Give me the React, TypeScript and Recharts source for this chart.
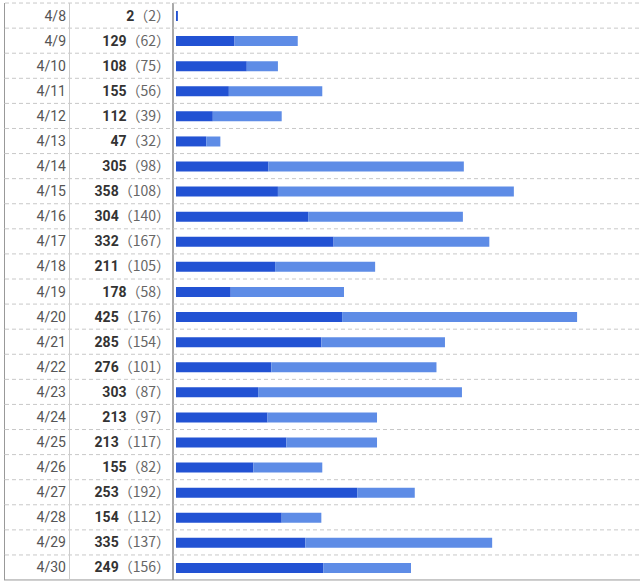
import { BarChart, Bar, XAxis, YAxis } from "recharts"

const dates = ["4/8", "4/9", "4/10", "4/11", "4/12", "4/13", "4/14", "4/15", "4/16", "4/17", "4/18", "4/19", "4/20", "4/21", "4/22", "4/23", "4/24", "4/25", "4/26", "4/27", "4/28", "4/29", "4/30"]
const totals = [2, 129, 108, 155, 112, 47, 305, 358, 304, 332, 211, 178, 425, 285, 276, 303, 213, 213, 155, 253, 154, 335, 249]
const uniques = [2, 62, 75, 56, 39, 32, 98, 108, 140, 167, 105, 58, 176, 154, 101, 87, 97, 117, 82, 192, 112, 137, 156]

const data = dates.map((d, i) => ({
  date: d,
  total: totals[i],
  unique: uniques[i],
  rest: totals[i] - uniques[i],
}))

const HALF = 12.5

function RowTick(props: any) {
  const { y, payload } = props
  const i = payload.index
  const row = data[i]
  const last = i === data.length - 1
  return (
    <g>
      <line x1={5} x2={640} y1={y - HALF} y2={y - HALF} stroke="#c8c8c8" strokeDasharray="4 3" />
      {last && <line x1={4} x2={640} y1={y + HALF} y2={y + HALF} stroke="#999" />}
      <line x1={4.5} x2={4.5} y1={y - HALF} y2={y + HALF} stroke="#999" />
      <line x1={69.5} x2={69.5} y1={y - HALF} y2={y + HALF} stroke="#ccc" />
      <text x={66} y={y} dy={5} textAnchor="end" fill="#555" fontSize={14}>
        {row.date}
      </text>
      <text x={170} y={y} dy={5} textAnchor="end" fontSize={14}>
        <tspan fontWeight="bold" fill="#333">{row.total}</tspan>
        <tspan fill="#666" fontFamily="'Noto Sans CJK JP', Roboto">（{row.unique}）</tspan>
      </text>
    </g>
  )
}

export default function App() {
  return (
    <div style={{ position: "absolute", left: 0, top: 0 }}>
      <BarChart
        width={640}
        height={587}
        data={data}
        layout="vertical"
        margin={{ top: 3, right: 11, bottom: 7, left: 0 }}
        style={{ fontFamily: "Roboto, sans-serif" }}
      >
        <XAxis type="number" hide domain={[0, 480]} padding={{ left: 3, right: 0 }} />
        <YAxis
          type="category"
          dataKey="date"
          width={173}
          tick={<RowTick />}
          tickLine={false}
          axisLine={{ stroke: "#aaa", strokeWidth: 2 }}
          interval={0}
        />
        <Bar dataKey="unique" stackId="a" fill="#2252d3" barSize={10} isAnimationActive={false} />
        <Bar dataKey="rest" stackId="a" fill="#5e8ce6" barSize={10} isAnimationActive={false} />
      </BarChart>
    </div>
  )
}
